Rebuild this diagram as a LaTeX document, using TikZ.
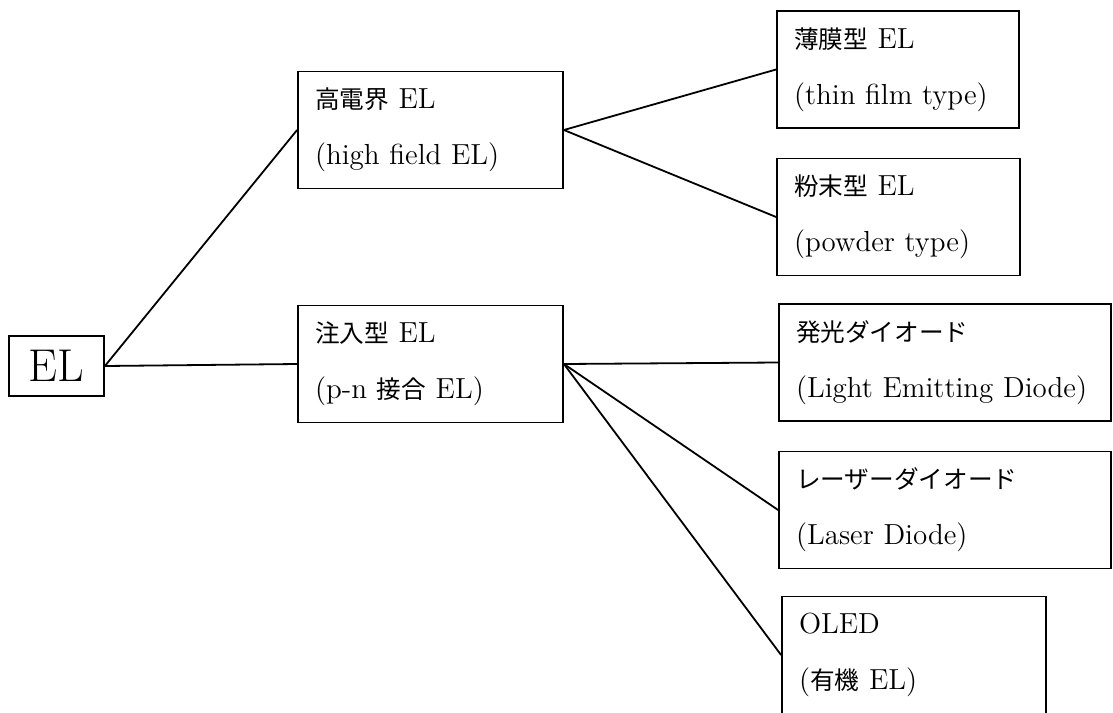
\documentclass[tikz,border=0pt]{standalone}
\usepackage{fontspec}
\newfontfamily\jp{Noto Sans CJK JP}[Scale=0.85]
\usepackage{tikz}
\tikzset{
    elbox/.style={draw, rectangle, line width=0.9pt, inner xsep=8.5pt, inner ysep=0pt, minimum height=58.5pt, align=left, font=\fontsize{14.5}{28}\selectfont},
    link/.style={line width=0.9pt}
}

\begin{document}
\begin{tikzpicture}[x=0.5pt, y=-0.5pt]
\useasboundingbox (0,0) rectangle (1113,712);
\node[draw, line width=0.9pt, minimum width=47.5pt, minimum height=30pt, inner sep=0pt, font=\fontsize{23}{27}\selectfont] (el) at (56.5,366) {EL};
\node[elbox, text width=115.5pt] (hi) at (430.5,130) {{\jp 高電界} EL\\(high field EL)};
\node[elbox, text width=115.5pt] (inj) at (430.5,364) {{\jp 注入型} EL\\(p-n {\jp 接合} EL)};
\node[elbox, text width=104pt] (thin) at (898,69.5) {{\jp 薄膜型} EL\\(thin film type)};
\node[elbox, text width=104.5pt] (pow) at (898.5,217) {{\jp 粉末型} EL\\(powder type)};
\node[elbox, text width=149pt] (led) at (945,362.5) {{\jp 発光ダイオード}\\(Light Emitting Diode)};
\node[elbox, text width=149pt] (ld) at (945,510) {{\jp レーザーダイオード}\\(Laser Diode)};
\node[elbox, text width=115pt] (oled) at (914,655) {OLED\\({\jp 有機} EL)};
\draw[link] (el.east) -- (hi.west);
\draw[link] (el.east) -- (inj.west);
\draw[link] (hi.east) -- (thin.west);
\draw[link] (hi.east) -- (pow.west);
\draw[link] (inj.east) -- (led.west);
\draw[link] (inj.east) -- (ld.west);
\draw[link] (inj.east) -- (oled.west);
\end{tikzpicture}
\end{document}
